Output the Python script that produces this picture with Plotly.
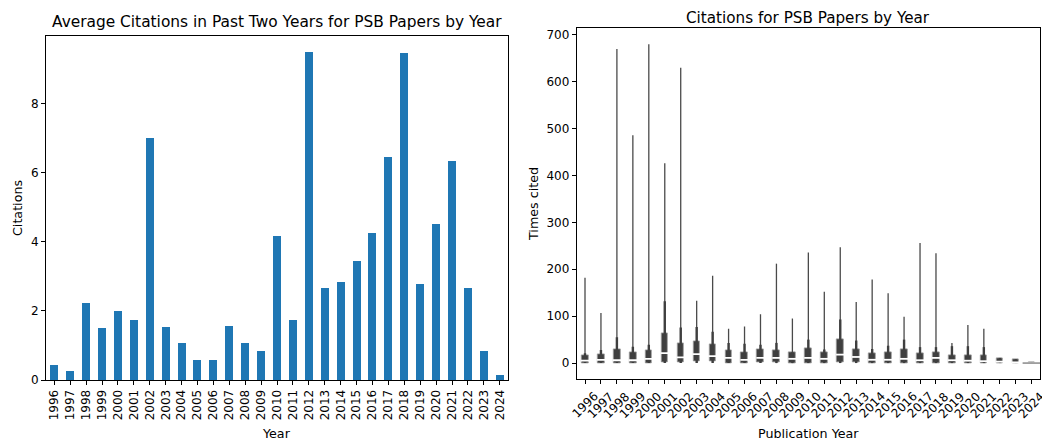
import plotly.graph_objects as go

years = [str(y) for y in range(1996, 2025)]

avg_citations = [0.43, 0.28, 2.24, 1.52, 2.01, 1.76, 7.01, 1.55, 1.08, 0.60,
                 0.58, 1.56, 1.09, 0.86, 4.18, 1.76, 9.50, 2.66, 2.84, 3.47,
                 4.28, 6.48, 9.47, 2.80, 4.52, 6.36, 2.66, 0.85, 0.16]

cit_min = [0] * 29
cit_q1 = [0, 0, 0, 0, 0, 1, 1, 3, 4, 0, 0, 1, 1, 0, 0, 0, 2, 2, 0, 0,
          0, 0, 0, 0, 0, 0, 0, 0, 0]
cit_median = [5, 7, 6, 6, 9, 21, 12, 19, 15, 11, 7, 11, 11, 9, 11, 9, 18, 13, 7, 7,
              9, 6, 11, 6, 5, 4, 3, 1.5, 0]
cit_q3 = [17, 18, 30, 23, 28, 64, 43, 46, 41, 27, 24, 29, 27, 23, 32, 23, 50, 30, 21, 24,
          30, 21, 24, 16, 16, 16, 11, 8, 1]
cit_whisker = [21, 28, 55, 35, 39, 132, 76, 77, 67, 43, 41, 39, 43, 23, 50, 29, 93, 48, 30, 37,
               50, 34, 34, 36, 36, 34, 11, 8, 1]
cit_max = [182, 107, 670, 486, 680, 426, 630, 133, 186, 73, 78, 104, 212, 95, 236, 152, 247, 130, 178, 149,
           99, 256, 234, 43, 81, 73, 11, 8, 1]

FONT = "DejaVu Sans"
DARK = "#3f3f3f"

# page has an 8px body margin: figure occupies the window from (8, 8)
OFF = 8
W, H = 1050 - OFF, 441 - OFF


def px(X):
    return (X - OFF) / W


def py(Y):
    return 1 - (Y - OFF) / H


fig = go.Figure()

# ---- Left: bar chart ----
fig.add_trace(go.Bar(x=years, y=avg_citations, marker_color="#1f77b4",
                     marker_line_width=0, width=0.5, xaxis="x", yaxis="y",
                     showlegend=False))

# ---- Right: violin-like (inner box) ----
vx, vy = [], []
for yr, lo, hi in zip(years, cit_min, cit_max):
    vx += [yr, yr, None]
    vy += [lo, hi, None]
fig.add_trace(go.Scatter(x=vx, y=vy, mode="lines", line=dict(color="#4a4a4a", width=1.3),
                         xaxis="x2", yaxis="y2", showlegend=False, hoverinfo="skip"))

wx, wy = [], []
for yr, lo, hi in zip(years, cit_min, cit_whisker):
    wx += [yr, yr, None]
    wy += [lo, hi, None]
fig.add_trace(go.Scatter(x=wx, y=wy, mode="lines", line=dict(color=DARK, width=2.4),
                         xaxis="x2", yaxis="y2", showlegend=False, hoverinfo="skip"))

fig.add_trace(go.Bar(x=years, base=cit_q1, y=[b - a for a, b in zip(cit_q1, cit_q3)],
                     width=0.42, marker_color=DARK,
                     marker_line=dict(color="#9a9a9a", width=0.8),
                     xaxis="x2", yaxis="y2", showlegend=False))

fig.add_trace(go.Scatter(x=years, y=cit_median, mode="markers",
                         marker=dict(symbol="line-ew", size=6, line=dict(color="white", width=1.8)),
                         xaxis="x2", yaxis="y2", showlegend=False, hoverinfo="skip"))

# flat violin of the last year
fig.add_trace(go.Scatter(x=years[-1:], y=cit_median[-1:], mode="markers",
                         marker=dict(symbol="line-ew", size=13, line=dict(color="#777777", width=1.3)),
                         xaxis="x2", yaxis="y2", showlegend=False, hoverinfo="skip"))

axis_common = dict(showline=True, linecolor="black", linewidth=1, mirror=True,
                   ticks="outside", ticklen=4, tickcolor="black", showgrid=False,
                   zeroline=False, automargin=False,
                   tickfont=dict(family=FONT, size=12, color="black"))


def ann(text, x, y, size=12.7, angle=0, xref="paper", yanchor="middle"):
    return dict(text=text, x=x, y=y, xref=xref, yref="paper", showarrow=False,
                xanchor="center", yanchor=yanchor, textangle=angle, borderpad=0,
                font=dict(family=FONT, size=size, color="black"))


annotations = [
    ann("Average Citations in Past Two Years for PSB Papers by Year", px(276.9), py(22), 15.4),
    ann("Citations for PSB Papers by Year", px(808.3), 1.0, 15.2, yanchor="top"),
    ann("Year", px(276.9), py(433)),
    ann("Citations", px(18), py(208), angle=-90),
    ann("Publication Year", px(808.3), py(433)),
    ann("Times cited", px(533), py(204), angle=-90),
]
for i, yr in enumerate(years):
    annotations.append(ann(yr, i, py(405), size=12, angle=-45, xref="x2"))

fig.update_layout(
    width=W, height=H,
    margin=dict(l=0, r=0, t=0, b=0),
    paper_bgcolor="white", plot_bgcolor="white",
    font=dict(family=FONT, size=12, color="black"),
    bargap=0, barmode="overlay",
    xaxis=dict(domain=[px(46), px(507.7)], type="category", range=[-0.52, 28.5],
               tickangle=-90, anchor="y", **axis_common),
    yaxis=dict(domain=[py(380), py(35.7)], range=[0, 9.975],
               tickvals=[0, 2, 4, 6, 8], anchor="x", **axis_common),
    xaxis2=dict(domain=[px(576.7), px(1040)], type="category", range=[-0.52, 28.52],
                showticklabels=False, anchor="y2", **axis_common),
    yaxis2=dict(domain=[py(379), py(28.3)], range=[-34, 714],
                tickvals=list(range(0, 701, 100)), anchor="x2", **axis_common),
    annotations=annotations,
)

fig.write_html("out.html")
